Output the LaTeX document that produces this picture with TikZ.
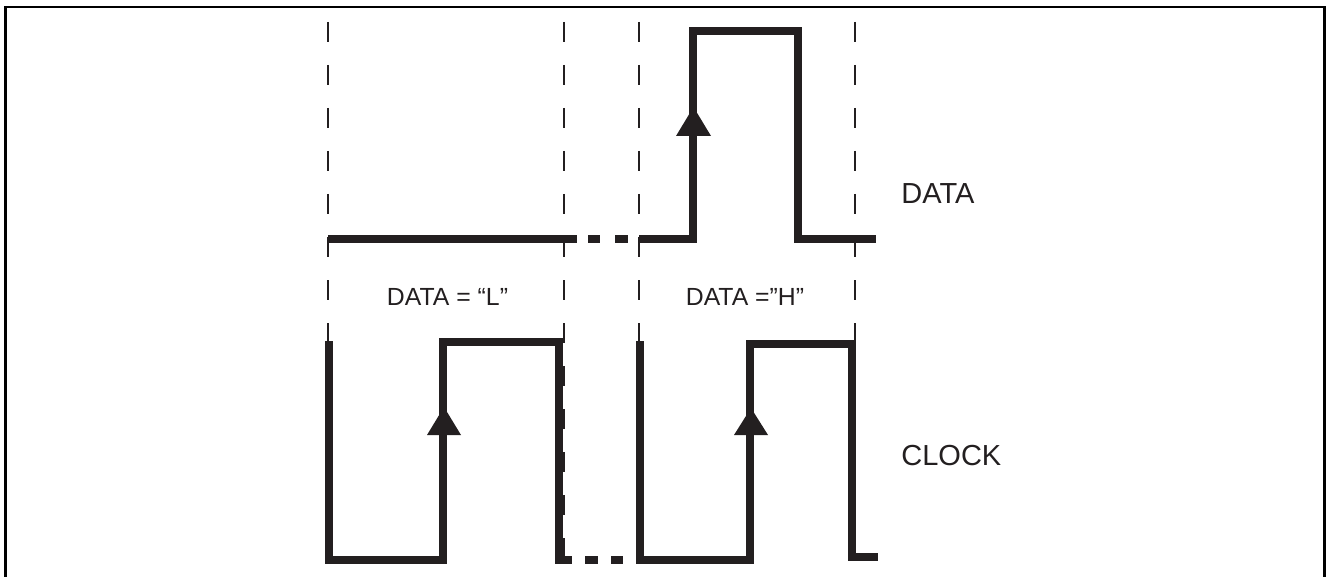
\documentclass[tikz,border=0pt]{standalone}
\usepackage{fontspec}
\setmainfont{Liberation Sans}
\definecolor{ink}{HTML}{231F20}
\begin{document}
\begin{tikzpicture}[x=0.5pt,y=-0.5pt,
  sig/.style={draw=ink,line width=4pt,line join=miter,line cap=butt},
  blk/.style={draw=ink,line width=4pt,line cap=butt},
  guide/.style={draw=ink,line width=1pt,dash pattern=on 10pt off 11.5pt},
  tri/.style={fill=ink},
  lbl/.style={font=\fontsize{14.5pt}{16pt}\selectfont,text=ink,inner sep=0pt},
  mlbl/.style={font=\fontsize{12.4pt}{14pt}\selectfont,text=ink,inner sep=0pt}]
\useasboundingbox (0,0) rectangle (1326,577);
% frame
\draw[black,line width=1.3pt] (5.5,577) -- (5.5,7) -- (1324.5,7) -- (1324.5,577);
% guides
\foreach \gx in {328,563.5,639,855}
  \draw[guide] (\gx,22) -- (\gx,562);
% DATA waveform
\draw[sig] (328,238.5) -- (577,238.5);
\draw[blk] (588,238.5) -- (600,238.5);
\draw[blk] (615,238.5) -- (628,238.5);
\draw[sig] (639,238.5) -- (693,238.5) -- (693,31) -- (798,31) -- (798,238.5) -- (876,238.5);
\fill[tri] (693.5,107) -- (711,136) -- (676,136) -- cycle;
% CLOCK waveform
\draw[sig] (328.5,341) -- (328.5,559.5) -- (443,559.5) -- (443,342) -- (559,342) -- (559,559.5) -- (572,559.5);
\draw[blk] (585,559.5) -- (598,559.5);
\draw[blk] (611,559.5) -- (623,559.5);
\draw[sig] (640,341) -- (640,559.5) -- (750,559.5) -- (750,344) -- (852,344) -- (852,557) -- (878,557);
\fill[tri] (444,407) -- (461,435) -- (427,435) -- cycle;
\fill[tri] (751,408) -- (768,435) -- (734,435) -- cycle;
% labels
\node[lbl,anchor=base west] (ldata) at (901,204) {DATA};
\node[lbl,anchor=base west] (lclock) at (901,465) {CLOCK};
\node[mlbl,anchor=base] (lL) at (447.5,305) {DATA = “L”};
\node[mlbl,anchor=base] (lH) at (745,305) {DATA =”H”};
\end{tikzpicture}
\end{document}
